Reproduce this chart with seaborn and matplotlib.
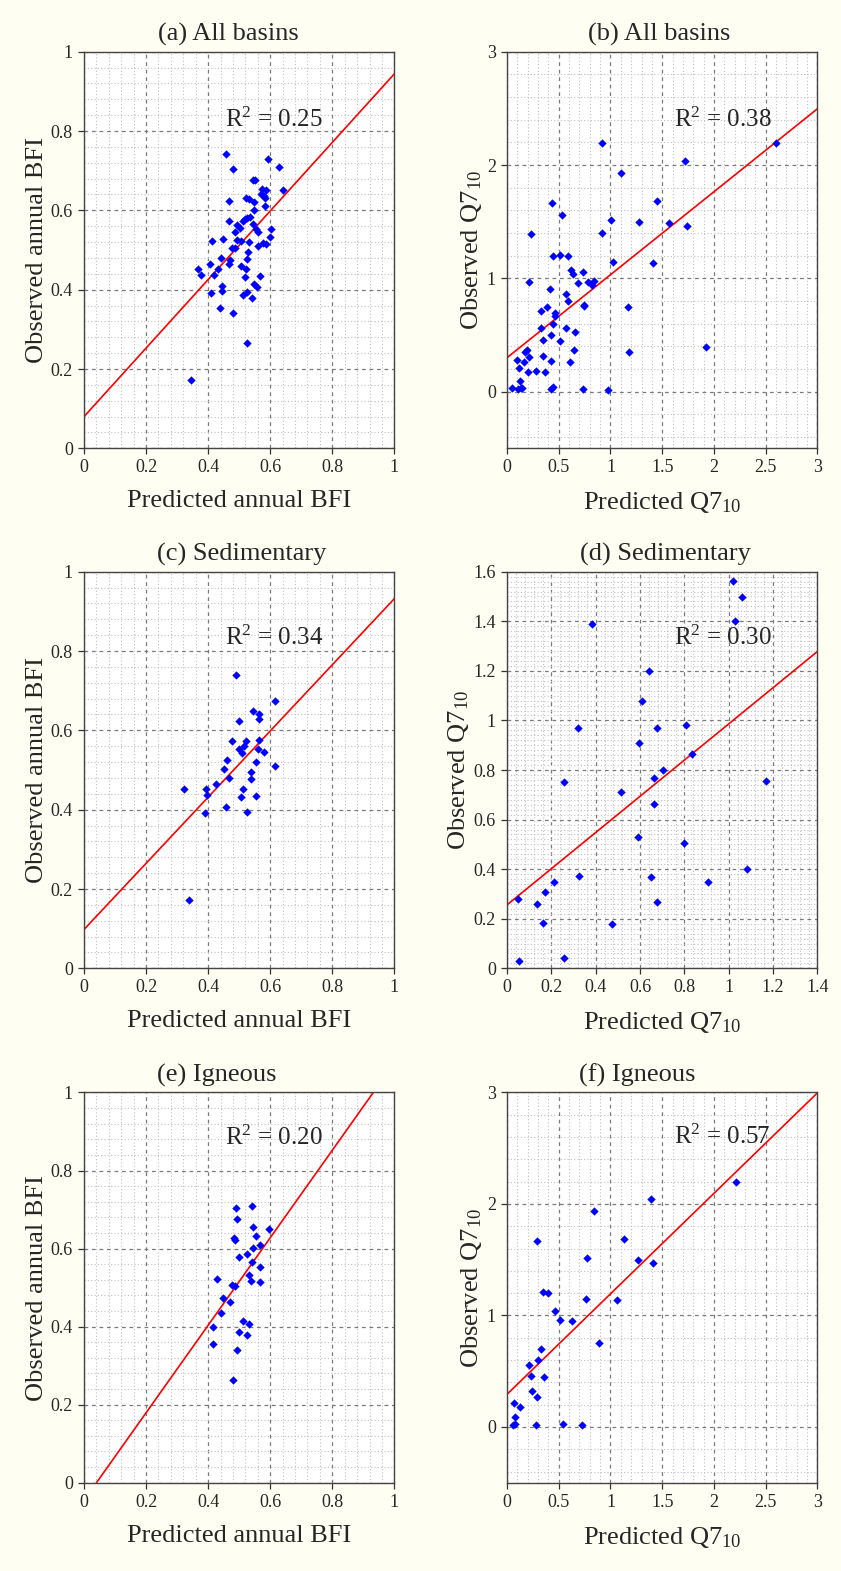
import matplotlib
matplotlib.use("Agg")
import matplotlib.pyplot as plt
import seaborn as sns
import pandas as pd
from matplotlib.ticker import MultipleLocator, FuncFormatter

# ---------------- data ----------------
pred_a = [0.459, 0.481, 0.592, 0.627, 0.641, 0.545, 0.550, 0.572, 0.585, 0.570, 0.579, 0.582,
          0.521, 0.532, 0.466, 0.547, 0.582, 0.548, 0.534, 0.526, 0.519, 0.512, 0.467, 0.492,
          0.504, 0.546, 0.488, 0.553, 0.562, 0.603, 0.599, 0.411, 0.448, 0.494, 0.505, 0.533,
          0.576, 0.587, 0.562, 0.478, 0.485, 0.527, 0.440, 0.524, 0.471, 0.468, 0.406, 0.367,
          0.431, 0.505, 0.521, 0.378, 0.420, 0.566, 0.520, 0.444, 0.446, 0.547, 0.559, 0.410,
          0.526, 0.512, 0.542, 0.437, 0.480, 0.524, 0.346]
obs_a = [0.741, 0.705, 0.729, 0.709, 0.651, 0.676, 0.676, 0.655, 0.651, 0.642, 0.636, 0.632,
         0.631, 0.628, 0.624, 0.620, 0.611, 0.600, 0.584, 0.580, 0.577, 0.574, 0.573, 0.562,
         0.555, 0.565, 0.545, 0.554, 0.545, 0.552, 0.533, 0.524, 0.527, 0.525, 0.522, 0.520,
         0.517, 0.515, 0.510, 0.504, 0.505, 0.495, 0.481, 0.478, 0.474, 0.465, 0.466, 0.453,
         0.453, 0.459, 0.452, 0.436, 0.437, 0.435, 0.431, 0.409, 0.397, 0.414, 0.406, 0.391,
         0.394, 0.386, 0.378, 0.355, 0.340, 0.265, 0.172]

pred_b = [0.915, 2.604, 1.721, 1.099, 1.447, 0.432, 0.529, 1.002, 1.279, 1.569, 1.737, 0.235,
          0.922, 0.442, 0.516, 0.587, 1.028, 1.415, 0.617, 0.641, 0.738, 0.690, 0.783, 0.819,
          0.840, 0.216, 0.419, 0.570, 0.592, 0.391, 0.742, 0.744, 1.174, 0.329, 0.465, 0.459,
          0.324, 0.572, 0.446, 0.659, 0.425, 0.346, 0.509, 0.650, 1.176, 1.924, 0.177, 0.189,
          0.352, 0.215, 0.097, 0.168, 0.422, 0.612, 0.114, 0.277, 0.200, 0.364, 0.129, 0.045,
          0.104, 0.135, 0.147, 0.424, 0.440, 0.738, 0.980]
obs_b = [2.197, 2.194, 2.035, 1.932, 1.685, 1.665, 1.562, 1.518, 1.497, 1.491, 1.465, 1.388,
         1.398, 1.194, 1.204, 1.197, 1.145, 1.135, 1.076, 1.035, 1.056, 0.956, 0.966, 0.944,
         0.975, 0.965, 0.903, 0.862, 0.797, 0.747, 0.765, 0.753, 0.747, 0.710, 0.697, 0.670,
         0.558, 0.559, 0.600, 0.526, 0.502, 0.459, 0.450, 0.368, 0.347, 0.394, 0.353, 0.368,
         0.318, 0.306, 0.279, 0.258, 0.268, 0.265, 0.209, 0.182, 0.171, 0.174, 0.090, 0.029,
         0.020, 0.032, 0.032, 0.020, 0.041, 0.024, 0.018]

pred_c = [0.489, 0.617, 0.546, 0.564, 0.563, 0.499, 0.476, 0.523, 0.563, 0.517, 0.498, 0.510,
          0.560, 0.580, 0.461, 0.555, 0.450, 0.615, 0.537, 0.468, 0.537, 0.426, 0.323, 0.392,
          0.512, 0.395, 0.506, 0.554, 0.459, 0.390, 0.526, 0.337]
obs_c = [0.739, 0.674, 0.649, 0.640, 0.629, 0.623, 0.572, 0.572, 0.575, 0.560, 0.553, 0.543,
         0.552, 0.545, 0.525, 0.520, 0.503, 0.509, 0.494, 0.481, 0.477, 0.465, 0.452, 0.452,
         0.452, 0.437, 0.431, 0.434, 0.408, 0.391, 0.393, 0.173]

pred_d = [1.020, 1.062, 1.030, 0.383, 0.642, 0.611, 0.322, 0.677, 0.809, 0.597, 0.836, 0.702,
          0.665, 0.256, 1.167, 0.516, 0.665, 0.592, 0.797, 1.081, 0.326, 0.651, 0.214, 0.908,
          0.171, 0.050, 0.134, 0.678, 0.164, 0.475, 0.257, 0.053]
obs_d = [1.564, 1.499, 1.401, 1.391, 1.201, 1.080, 0.968, 0.970, 0.982, 0.908, 0.865, 0.800,
         0.766, 0.750, 0.754, 0.712, 0.664, 0.531, 0.505, 0.400, 0.372, 0.370, 0.350, 0.350,
         0.310, 0.280, 0.260, 0.268, 0.183, 0.178, 0.040, 0.031]

pred_e = [0.541, 0.489, 0.493, 0.546, 0.596, 0.553, 0.482, 0.488, 0.566, 0.546, 0.525, 0.501,
          0.540, 0.568, 0.532, 0.539, 0.566, 0.427, 0.478, 0.487, 0.448, 0.469, 0.441, 0.513,
          0.532, 0.416, 0.499, 0.525, 0.415, 0.493, 0.479]
obs_e = [0.709, 0.704, 0.676, 0.654, 0.650, 0.633, 0.627, 0.621, 0.610, 0.601, 0.585, 0.579,
         0.566, 0.552, 0.533, 0.518, 0.515, 0.523, 0.506, 0.504, 0.473, 0.464, 0.435, 0.415,
         0.406, 0.398, 0.385, 0.378, 0.355, 0.341, 0.264]

pred_f = [2.217, 1.392, 0.844, 1.134, 0.293, 0.770, 1.263, 1.408, 0.348, 0.400, 0.761, 1.067,
          0.461, 0.509, 0.628, 0.889, 0.325, 0.296, 0.213, 0.232, 0.355, 0.238, 0.290, 0.068,
          0.122, 0.074, 0.061, 0.081, 0.280, 0.545, 0.728]
obs_f = [2.198, 2.042, 1.934, 1.689, 1.668, 1.518, 1.494, 1.467, 1.207, 1.201, 1.150, 1.138,
         1.039, 0.958, 0.949, 0.751, 0.698, 0.599, 0.560, 0.461, 0.449, 0.320, 0.269, 0.213,
         0.177, 0.093, 0.021, 0.024, 0.018, 0.024, 0.021]

# regression lines: (intercept, slope)
fit_a = (0.080, 0.864)
fit_b = (0.300, 0.732)
fit_c = (0.098, 0.834)
fit_d = (0.256, 0.730)
fit_e = (-0.045, 1.121)
fit_f = (0.293, 0.901)

r2_values = ["0.25", "0.38", "0.34", "0.30", "0.20", "0.57"]
titles = ["(a) All basins", "(b) All basins", "(c) Sedimentary", "(d) Sedimentary",
          "(e) Igneous", "(f) Igneous"]
xlabels = ["Predicted annual BFI", "Predicted Q7$_{10}$"] * 3
ylabels = ["Observed annual BFI", "Observed Q7$_{10}$"] * 3

# ---------------- style ----------------
sns.set_style("ticks")
plt.rcParams["font.family"] = ["Liberation Serif", "DejaVu Serif"]
plt.rcParams["mathtext.fontset"] = "custom"
plt.rcParams["mathtext.rm"] = "Liberation Serif"
plt.rcParams["mathtext.it"] = "Liberation Serif:italic"
plt.rcParams["mathtext.bf"] = "Liberation Serif:bold"

BG = "#fefef2"
fig = plt.figure(figsize=(8.41, 15.71), dpi=100, facecolor=BG)

W = 0.369
lefts = [0.0999, 0.6029]
rows = [(0.7146, 0.2525), (0.3836, 0.2525), (0.0562, 0.2484)]

panels = [
    (pred_a, obs_a, fit_a, (0, 1), (0, 1), 0.2, 0.04, 0.2, 0.04),
    (pred_b, obs_b, fit_b, (0, 3), (-0.5, 3), 0.5, 0.1, 1.0, 0.2),
    (pred_c, obs_c, fit_c, (0, 1), (0, 1), 0.2, 0.04, 0.2, 0.04),
    (pred_d, obs_d, fit_d, (0, 1.4), (0, 1.6), 0.2, 0.04, 0.2, 0.02),
    (pred_e, obs_e, fit_e, (0, 1), (0, 1), 0.2, 0.04, 0.2, 0.04),
    (pred_f, obs_f, fit_f, (0, 3), (-0.5, 3), 0.5, 0.1, 1.0, 0.2),
]
text_pos = [(0.454, 0.811), (0.538, 0.810), (0.454, 0.815), (0.538, 0.816),
            (0.454, 0.865), (0.538, 0.867)]
title_x = [0.465, 0.489, 0.508, 0.511, 0.427, 0.421]

fmt = FuncFormatter(lambda v, p: f"{v:g}")

for i, (xs, ys, fit, xlim, ylim, xmaj, xmin, ymaj, ymin) in enumerate(panels):
    r, c = divmod(i, 2)
    bottom, h = rows[r]
    ax = fig.add_axes([lefts[c], bottom, W, h])
    ax.set_facecolor("white")
    ax.set_axisbelow(True)
    df = pd.DataFrame({"pred": xs, "obs": ys})
    sns.scatterplot(data=df, x="pred", y="obs", ax=ax, marker="D", color="blue",
                    s=18, linewidth=0, zorder=3, legend=False)
    ax.axline((0, fit[0]), slope=fit[1], color="red", lw=1.2, zorder=2)
    ax.set_xlim(*xlim)
    ax.set_ylim(*ylim)
    ax.xaxis.set_major_locator(MultipleLocator(xmaj))
    ax.xaxis.set_minor_locator(MultipleLocator(xmin))
    ax.yaxis.set_major_locator(MultipleLocator(ymaj))
    ax.yaxis.set_minor_locator(MultipleLocator(ymin))
    ax.xaxis.set_major_formatter(fmt)
    ax.yaxis.set_major_formatter(fmt)
    ax.grid(which="minor", ls=(0, (1, 2)), color="#c0c0c0", lw=0.8)
    ax.grid(which="major", ls=(0, (3, 3)), color="#7a7a7a", lw=0.9)
    ax.tick_params(which="minor", length=0)
    ax.tick_params(which="major", direction="out", length=4, width=0.9,
                   color="#333333", labelsize=13, pad=4)
    for sp in ax.spines.values():
        sp.set_color("#444444")
        sp.set_linewidth(1.0)
    ax.set_title(titles[i], fontsize=19, pad=8, x=title_x[i])
    ax.set_xlabel(xlabels[i], fontsize=19, labelpad=10)
    ax.set_ylabel(ylabels[i], fontsize=19, labelpad=2)
    ax.text(text_pos[i][0], text_pos[i][1], "R$^{2}$ = " + r2_values[i],
            transform=ax.transAxes, fontsize=18, ha="left", va="baseline")

fig.savefig("out.png", dpi=100, facecolor=BG)
